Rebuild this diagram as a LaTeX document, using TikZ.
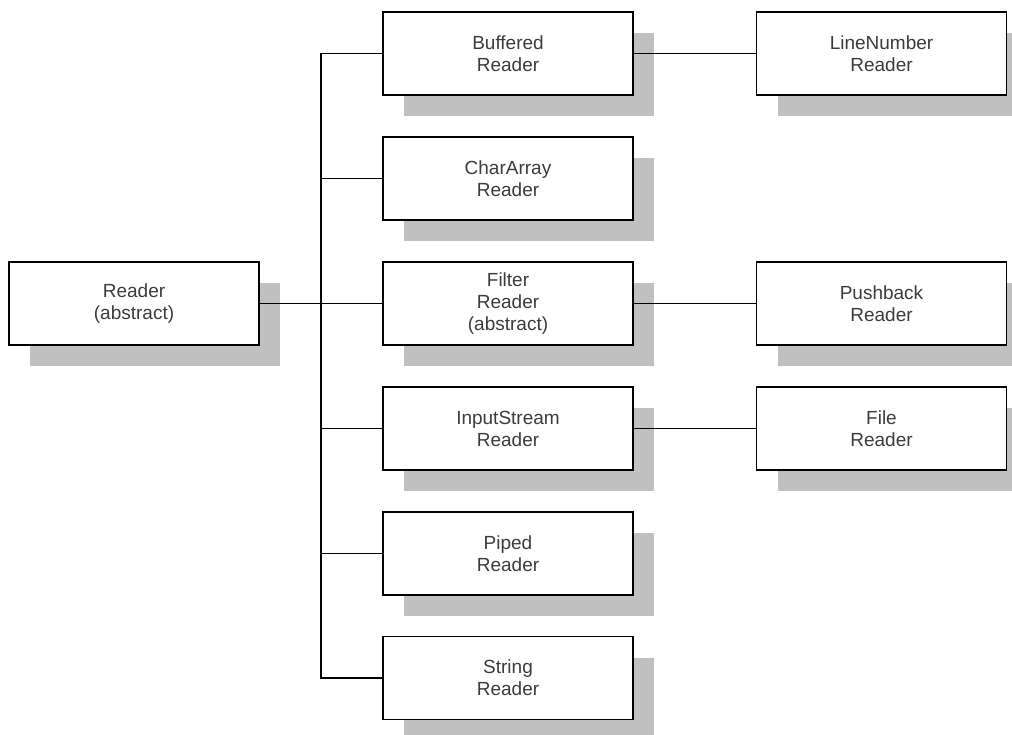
\documentclass[tikz,border=0pt]{standalone}
\usepackage{fontspec}
\setmainfont{Liberation Sans}
\usetikzlibrary{shadows}
\definecolor{rdshadow}{RGB}{192,192,192}
\definecolor{rdtext}{RGB}{60,60,60}

\begin{document}
\begin{tikzpicture}[x=1pt,y=-1pt,
  cls/.style={draw, line width=1.2pt, fill=white, minimum width=250pt,
    minimum height=83pt, align=center, text=rdtext,
    font=\fontsize{19}{22}\selectfont,
    general shadow={shadow xshift=21pt, shadow yshift=-21pt, fill=rdshadow}},
  link/.style={line width=1.2pt}]
  \useasboundingbox (0,0) rectangle (1012,735);
  % base class on the left
  \node[cls] (reader) at (134,303.5) {Reader\\(abstract)};
  % direct subclasses, one row every 125px
  \node[cls] (buffered)    at (508,53.5)  {Buffered\\Reader};
  \node[cls] (chararray)   at (508,178.5) {CharArray\\Reader};
  \node[cls] (filter)      at (508,303.5) {Filter\\Reader\\(abstract)};
  \node[cls] (inputstream) at (508,428.5) {InputStream\\Reader};
  \node[cls] (piped)       at (508,553.5) {Piped\\Reader};
  \node[cls] (string)      at (508,678)   {String\\Reader};
  % second level
  \node[cls] (linenumber) at (881.5,53.5)  {LineNumber\\Reader};
  \node[cls] (pushback)   at (881.5,303.5) {Pushback\\Reader};
  \node[cls] (file)       at (881.5,428.5) {File\\Reader};
  % connectors
  \coordinate (trunk) at (321,303.5);
  \draw[link] (reader) -- (filter);
  \draw[link] (buffered.west) -| (trunk) |- (string.west);
  \draw[link] (trunk |- chararray.west) -- (chararray.west);
  \draw[link] (trunk |- inputstream.west) -- (inputstream.west);
  \draw[link] (trunk |- piped.west) -- (piped.west);
  \draw[link] (buffered) -- (linenumber);
  \draw[link] (filter) -- (pushback);
  \draw[link] (inputstream) -- (file);
\end{tikzpicture}
\end{document}
